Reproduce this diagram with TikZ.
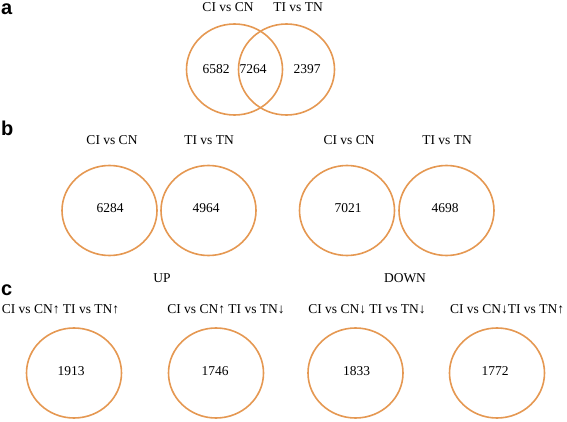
\documentclass[tikz,border=0pt]{standalone}
\usepackage{fontspec}
\setmainfont{Liberation Serif}
\newfontfamily\panelfont{Liberation Sans}
\usetikzlibrary{shapes.geometric}
\definecolor{vorange}{RGB}{229,152,82}
\begin{document}
\begin{tikzpicture}[x=1pt,y=-1pt,
  venn/.style={draw=vorange, line width=1.6pt, ellipse, minimum width=95pt, minimum height=90pt, inner sep=0pt},
  txt/.style={font=\fontsize{13.5}{16}\selectfont, anchor=base, inner sep=0pt},
  panel/.style={font=\panelfont\bfseries\fontsize{20}{24}\selectfont, anchor=base west, inner sep=0pt}]
\useasboundingbox (0,0) rectangle (567,422);
% panel letters
\node[panel] (pa) at (1,15) {a};
\node[panel] (pb) at (1,136) {b};
\node[panel] (pc) at (1,295) {c};
% panel a
\node[venn, minimum width=96pt, minimum height=91pt] (aL) at (234.5,69.5) {};
\node[venn, minimum width=96pt, minimum height=91pt] (aR) at (286.5,69.5) {};
\node[txt] (aLt) at (228,11.5) {CI vs CN};
\node[txt] (aRt) at (298,11.5) {TI vs TN};
\node[txt] (a1) at (216,74) {6582};
\node[txt] (a2) at (253,74) {7264};
\node[txt] (a3) at (307,74) {2397};
% panel b
\node[venn] (b1) at (109.5,210.5) {};
\node[venn] (b2) at (208.5,210.5) {};
\node[venn] (b3) at (347,210.5) {};
\node[venn] (b4) at (446.5,210.5) {};
\node[txt] (b1t) at (112,145) {CI vs CN};
\node[txt] (b2t) at (209,145) {TI vs TN};
\node[txt] (b3t) at (349,145) {CI vs CN};
\node[txt] (b4t) at (447,145) {TI vs TN};
\node[txt] (b1n) at (110,212) {6284};
\node[txt] (b2n) at (206,212) {4964};
\node[txt] (b3n) at (348,212) {7021};
\node[txt] (b4n) at (445,212) {4698};
\node[txt] (up) at (162,282.5) {UP};
\node[txt] (down) at (405,282.5) {DOWN};
% panel c
\node[venn] (c1) at (74,373) {};
\node[venn] (c2) at (216,373) {};
\node[venn] (c3) at (355.5,373) {};
\node[venn] (c4) at (497,373) {};
\node[txt] (c1t) at (60.5,313) {CI vs CN↑ TI vs TN↑};
\node[txt] (c2t) at (226,313) {CI vs CN↑ TI vs TN↓};
\node[txt] (c3t) at (367,313) {CI vs CN↓ TI vs TN↓};
\node[txt] (c4t) at (507,313) {CI vs CN↓TI vs TN↑};
\node[txt] (c1n) at (71,375) {1913};
\node[txt] (c2n) at (215,375) {1746};
\node[txt] (c3n) at (356.5,375) {1833};
\node[txt] (c4n) at (495,375) {1772};
\end{tikzpicture}
\end{document}
